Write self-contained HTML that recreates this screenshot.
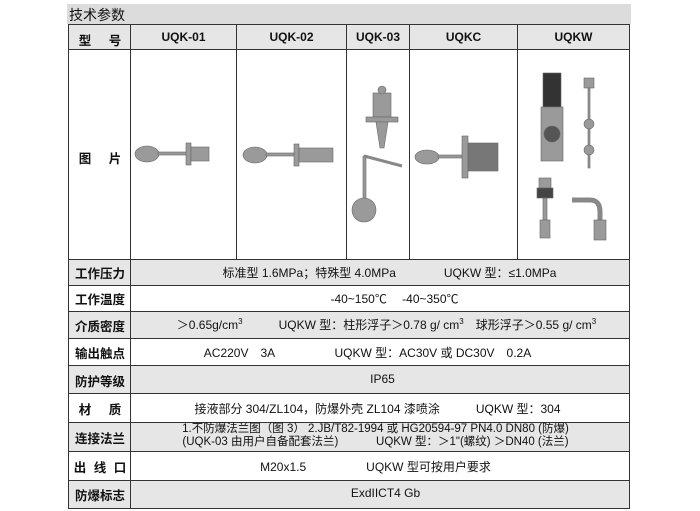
<!DOCTYPE html>
<html><head><meta charset="utf-8"><style>
body{margin:0;width:700px;height:511px;background:#fff;position:relative;overflow:hidden;font-family:"Liberation Sans","Noto Sans CJK SC",sans-serif;color:#111}
.t{position:absolute;font-size:12px;white-space:nowrap}
.r{position:absolute;left:69px;width:561px;border-top:1.5px solid #333}
.g{background:#e6e6e6}
.v{position:absolute;border-left:1.5px solid #333}
.lb{position:absolute;left:70px;width:60px;text-align:center;font-weight:bold;font-size:12.5px}
.c{position:absolute;left:131px;width:499px;text-align:center;font-size:12px;white-space:nowrap}
sup{font-size:8px}
</style></head><body>
<div style="position:absolute;left:67px;top:4px;width:564px;height:20px;background:#dcdcdc"></div>
<div class="t" style="left:69px;top:5px;font-size:14px">技术参数</div>
<div class="r g" style="top:24px;height:25px"></div>
<div class="r" style="top:49px;height:210px"></div>
<div class="r g" style="top:259px;height:26px"></div>
<div class="r" style="top:285px;height:26px"></div>
<div class="r g" style="top:311px;height:27px"></div>
<div class="r" style="top:338px;height:27px"></div>
<div class="r g" style="top:365px;height:28px"></div>
<div class="r" style="top:393px;height:29px"></div>
<div class="r g" style="top:422px;height:29px"></div>
<div class="r" style="top:451px;height:29px"></div>
<div class="r g" style="top:480px;height:27px;border-bottom:1.5px solid #333"></div>
<div class="v" style="left:68px;top:24px;height:485px"></div>
<div class="v" style="left:629px;top:24px;height:485px"></div>
<div class="v" style="left:130px;top:24px;height:485px"></div>
<div class="v" style="left:236px;top:24px;height:236px"></div>
<div class="v" style="left:346px;top:24px;height:236px"></div>
<div class="v" style="left:409px;top:24px;height:236px"></div>
<div class="v" style="left:517px;top:24px;height:236px"></div>
<div class="lb" style="top:30px;word-spacing:14px">型 号</div>
<div class="t" style="left:131px;width:105px;text-align:center;top:30px;font-weight:bold">UQK-01</div>
<div class="t" style="left:237px;width:109px;text-align:center;top:30px;font-weight:bold">UQK-02</div>
<div class="t" style="left:347px;width:62px;text-align:center;top:30px;font-weight:bold">UQK-03</div>
<div class="t" style="left:410px;width:107px;text-align:center;top:30px;font-weight:bold">UQKC</div>
<div class="t" style="left:518px;width:111px;text-align:center;top:30px;font-weight:bold">UQKW</div>
<div class="lb" style="top:148px;word-spacing:14px">图 片</div>
<svg style="position:absolute;left:0;top:0" width="700" height="511">
<g fill="#9a9a9a" stroke="#666" stroke-width="0.6">
<ellipse cx="147" cy="154" rx="12" ry="8"/><rect x="158" y="152" width="30" height="3"/><rect x="186" y="143" width="5" height="22"/><rect x="191" y="147" width="18" height="14"/>
<ellipse cx="255" cy="155" rx="12" ry="8"/><rect x="266" y="153" width="30" height="3"/><rect x="294" y="144" width="5" height="22"/><rect x="299" y="148" width="34" height="14"/>
<rect x="373" y="93" width="18" height="24"/><circle cx="382" cy="90" r="4"/><rect x="366" y="117" width="32" height="5"/><path d="M376 122 L388 122 L384 148 L380 148Z"/><path d="M364 156 L402 166" stroke-width="3" stroke="#888"/><rect x="363" y="156" width="3" height="48"/><circle cx="364" cy="210" r="12"/>
<ellipse cx="427" cy="157" rx="12" ry="7"/><rect x="438" y="155" width="25" height="3"/><rect x="462" y="136" width="6" height="42"/><rect x="468" y="143" width="30" height="28" fill="#777"/>
<rect x="543" y="73" width="18" height="34" fill="#333"/><rect x="541" y="107" width="22" height="54"/><circle cx="552" cy="134" r="8" fill="#555"/>
<rect x="584" y="78" width="10" height="10"/><rect x="588" y="88" width="2" height="80"/><circle cx="589" cy="124" r="5"/><circle cx="589" cy="150" r="5"/>
<rect x="539" y="178" width="12" height="10"/><rect x="537" y="188" width="16" height="10" fill="#444"/><rect x="543" y="198" width="4" height="22"/><rect x="540" y="220" width="10" height="18"/>
<path d="M572 200 L590 200 Q600 200 600 212 L600 220" stroke="#888" stroke-width="5" fill="none"/><rect x="594" y="220" width="12" height="20"/>
</g>
</svg>
<div class="lb" style="top:263px">工作压力</div>
<div class="c" style="top:264px;left:140px">标准型 1.6MPa；特殊型 4.0MPa　　　　UQKW 型：≤1.0MPa</div>
<div class="lb" style="top:289px">工作温度</div>
<div class="c" style="top:290px;left:145px">-40~150℃　 -40~350℃</div>
<div class="lb" style="top:316px">介质密度</div>
<div class="c" style="top:316px;left:137px">＞0.65g/cm<sup>3</sup>　　　UQKW 型：柱形浮子＞0.78 g/ cm<sup>3</sup>　球形浮子＞0.55 g/ cm<sup>3</sup></div>
<div class="lb" style="top:343px">输出触点</div>
<div class="c" style="top:344px;left:118px">AC220V　3A　　　　　UQKW 型：AC30V 或 DC30V　0.2A</div>
<div class="lb" style="top:371px">防护等级</div>
<div class="c" style="top:372px;left:133px">IP65</div>
<div class="lb" style="top:399px;word-spacing:14px">材 质</div>
<div class="c" style="top:400px;left:128px">接液部分 304/ZL104，防爆外壳 ZL104 漆喷涂　　　UQKW 型：304</div>
<div class="lb" style="top:428px">连接法兰</div>
<div class="c" style="top:423px;left:126px;font-size:11.5px;line-height:13px">1.不防爆法兰图（图 3） 2.JB/T82-1994 或 HG20594-97 PN4.0 DN80 (防爆)<br>(UQK-03 由用户自备配套法兰)　　　 UQKW 型：＞1"(螺纹) ＞DN40 (法兰)</div>
<div class="lb" style="top:457px;word-spacing:4px">出 线 口</div>
<div class="c" style="top:458px;left:126px">M20x1.5　　　　　UQKW 型可按用户要求</div>
<div class="lb" style="top:485px">防爆标志</div>
<div class="c" style="top:486px;left:136px">ExdIICT4 Gb</div>
</body></html>
